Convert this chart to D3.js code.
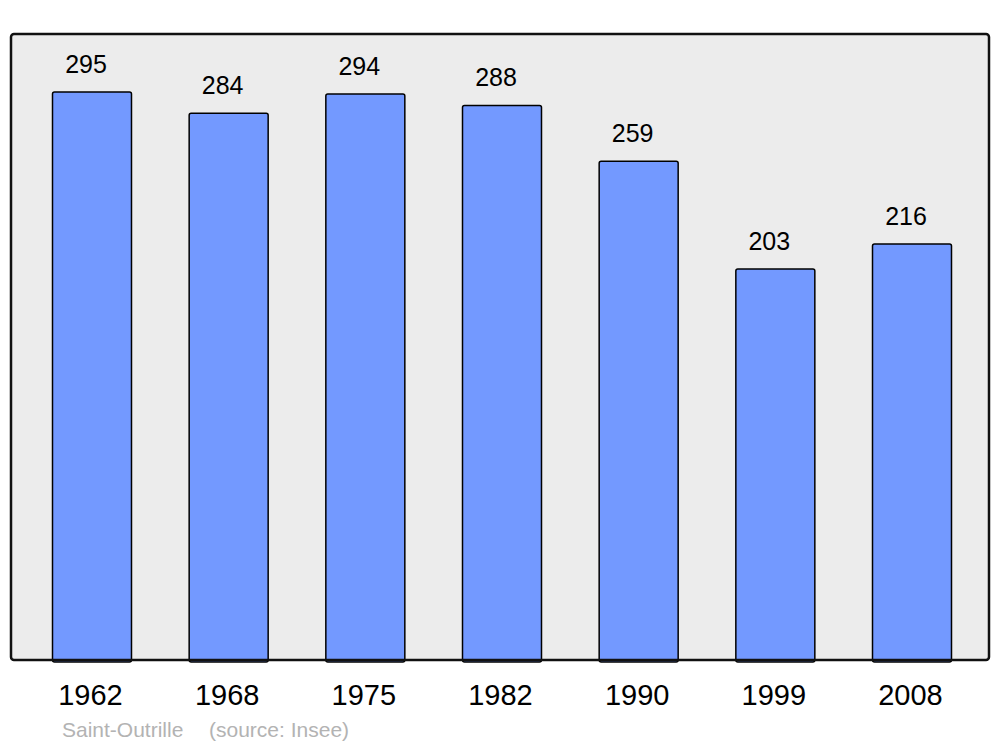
<!DOCTYPE html>
<html lang="fr">
<head>
    <meta charset="UTF-8">
    <title>Saint-Outrille population</title>
    <script src="https://d3js.org/d3.v7.min.js"></script>
    <style>
        body {
            margin: 0;
            padding: 0;
            background: #ffffff;
        }
        svg {
            display: block;
            font-family: "Liberation Sans", Arial, sans-serif;
        }
    </style>
</head>
<body>
    <svg width="1000" height="747"></svg>

    <script>
        // data
        const years = ["1962", "1968", "1975", "1982", "1990", "1999", "2008"];
        const population = [295, 284, 294, 288, 259, 203, 216];
        const townName = "Saint-Outrille";
        const sourceNote = "(source: Insee)";

        const svg = d3.select("svg");

        const panel = { left: 11, right: 989, top: 34, bottom: 660 };

        const xScale = d3.scaleBand()
            .domain(years)
            .range([11.5, 992.5])
            .paddingInner(0.422)
            .paddingOuter(0.3);

        const yScale = d3.scaleLinear()
            .domain([0, 325.1])
            .range([panel.bottom, panel.top]);

        // grey background panel
        svg.append("rect")
            .attr("x", panel.left)
            .attr("y", panel.top)
            .attr("width", panel.right - panel.left)
            .attr("height", panel.bottom - panel.top)
            .attr("rx", 3)
            .attr("fill", "#ececec")
            .attr("stroke", "none");

        const data = years.map((y, i) => ({ year: y, value: population[i] }));

        svg.selectAll("rect.bar")
            .data(data)
            .enter()
            .append("rect")
            .attr("class", "bar")
            .attr("x", d => xScale(d.year))
            .attr("y", d => yScale(d.value))
            .attr("width", xScale.bandwidth())
            .attr("height", d => panel.bottom - yScale(d.value) + 2)
            .attr("rx", 2)
            .attr("fill", "#7399ff")
            .attr("stroke", "#000")
            .attr("stroke-width", 1.5);

        // panel border on top of bars
        svg.append("rect")
            .attr("x", panel.left)
            .attr("y", panel.top)
            .attr("width", panel.right - panel.left)
            .attr("height", panel.bottom - panel.top)
            .attr("rx", 3)
            .attr("fill", "none")
            .attr("stroke", "#111")
            .attr("stroke-width", 2.5);

        // value labels
        svg.selectAll("text.value")
            .data(data)
            .enter()
            .append("text")
            .attr("class", "value")
            .attr("x", d => xScale(d.year) + xScale.bandwidth() / 2 - 6)
            .attr("y", d => yScale(d.value) - 19)
            .attr("text-anchor", "middle")
            .attr("font-size", 25)
            .attr("fill", "#000")
            .text(d => d.value);

        // year labels
        svg.selectAll("text.year")
            .data(data)
            .enter()
            .append("text")
            .attr("class", "year")
            .attr("x", d => xScale(d.year) + xScale.bandwidth() / 2 - 1.5)
            .attr("y", 705)
            .attr("text-anchor", "middle")
            .attr("font-size", 29)
            .attr("fill", "#000")
            .text(d => d.year);

        svg.append("text")
            .attr("x", 62)
            .attr("y", 737)
            .attr("font-size", 21)
            .attr("fill", "#b3b3b3")
            .text(townName);

        svg.append("text")
            .attr("x", 209)
            .attr("y", 737)
            .attr("font-size", 21)
            .attr("fill", "#b3b3b3")
            .text(sourceNote);
    </script>
</body>
</html>
